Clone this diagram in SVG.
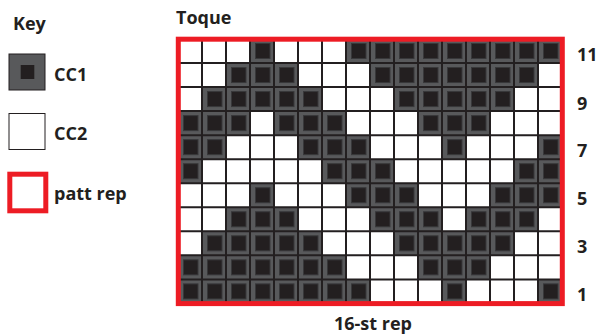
<svg xmlns="http://www.w3.org/2000/svg" xmlns:xlink="http://www.w3.org/1999/xlink" width="600" height="335" viewBox="0 0 600 335">
<style>
.t{font-family:"Open Sans","Noto Sans","Liberation Sans",sans-serif;font-weight:700;font-size:18px;fill:#231f20}
.grid{fill:none;stroke:#231f20;stroke-width:2}
.rep{fill:none;stroke:#ed1c24;stroke-width:5}
</style>
<defs>
<g id="cc1">
<rect x="0" y="0" width="24" height="24.1" fill="#58595b"/>
<rect x="5.5" y="4.5" width="14.5" height="15" fill="#231f20" stroke="#38383a" stroke-width="1"/>
</g>
</defs>
<rect width="600" height="335" fill="#ffffff"/>
<g id="key">
<text class="t" x="13" y="30">Key</text>
<g id="key-cc1">
<rect x="9" y="54" width="36" height="36" fill="#58595b" stroke="#231f20" stroke-width="1"/>
<rect x="20.7" y="65" width="13.6" height="14" fill="#231f20"/>
<text class="t" x="54" y="81">CC1</text>
</g>
<g id="key-cc2">
<rect x="9" y="113.5" width="36" height="36" fill="#ffffff" stroke="#231f20" stroke-width="1"/>
<text class="t" x="54" y="139.5">CC2</text>
</g>
<g id="key-rep">
<rect class="rep" x="9.8" y="174.2" width="36" height="36.6"/>
<text class="t" x="54" y="199.5">patt rep</text>
</g>
</g>
<g id="chart">
<text class="t" x="176" y="24">Toque</text>
<g id="cells">
<use xlink:href="#cc1" x="250" y="39"/><use xlink:href="#cc1" x="346" y="39"/><use xlink:href="#cc1" x="370" y="39"/><use xlink:href="#cc1" x="394" y="39"/><use xlink:href="#cc1" x="418" y="39"/><use xlink:href="#cc1" x="442" y="39"/><use xlink:href="#cc1" x="466" y="39"/><use xlink:href="#cc1" x="490" y="39"/><use xlink:href="#cc1" x="514" y="39"/><use xlink:href="#cc1" x="538" y="39"/>
<use xlink:href="#cc1" x="226" y="63.04"/><use xlink:href="#cc1" x="250" y="63.04"/><use xlink:href="#cc1" x="274" y="63.04"/><use xlink:href="#cc1" x="370" y="63.04"/><use xlink:href="#cc1" x="394" y="63.04"/><use xlink:href="#cc1" x="418" y="63.04"/><use xlink:href="#cc1" x="442" y="63.04"/><use xlink:href="#cc1" x="466" y="63.04"/><use xlink:href="#cc1" x="490" y="63.04"/><use xlink:href="#cc1" x="514" y="63.04"/>
<use xlink:href="#cc1" x="202" y="87.08"/><use xlink:href="#cc1" x="226" y="87.08"/><use xlink:href="#cc1" x="250" y="87.08"/><use xlink:href="#cc1" x="274" y="87.08"/><use xlink:href="#cc1" x="298" y="87.08"/><use xlink:href="#cc1" x="394" y="87.08"/><use xlink:href="#cc1" x="418" y="87.08"/><use xlink:href="#cc1" x="442" y="87.08"/><use xlink:href="#cc1" x="466" y="87.08"/><use xlink:href="#cc1" x="490" y="87.08"/>
<use xlink:href="#cc1" x="178" y="111.12"/><use xlink:href="#cc1" x="202" y="111.12"/><use xlink:href="#cc1" x="226" y="111.12"/><use xlink:href="#cc1" x="274" y="111.12"/><use xlink:href="#cc1" x="298" y="111.12"/><use xlink:href="#cc1" x="322" y="111.12"/><use xlink:href="#cc1" x="418" y="111.12"/><use xlink:href="#cc1" x="442" y="111.12"/><use xlink:href="#cc1" x="466" y="111.12"/>
<use xlink:href="#cc1" x="178" y="135.16"/><use xlink:href="#cc1" x="202" y="135.16"/><use xlink:href="#cc1" x="298" y="135.16"/><use xlink:href="#cc1" x="322" y="135.16"/><use xlink:href="#cc1" x="346" y="135.16"/><use xlink:href="#cc1" x="442" y="135.16"/><use xlink:href="#cc1" x="538" y="135.16"/>
<use xlink:href="#cc1" x="178" y="159.2"/><use xlink:href="#cc1" x="322" y="159.2"/><use xlink:href="#cc1" x="346" y="159.2"/><use xlink:href="#cc1" x="370" y="159.2"/><use xlink:href="#cc1" x="514" y="159.2"/><use xlink:href="#cc1" x="538" y="159.2"/>
<use xlink:href="#cc1" x="250" y="183.24"/><use xlink:href="#cc1" x="346" y="183.24"/><use xlink:href="#cc1" x="370" y="183.24"/><use xlink:href="#cc1" x="394" y="183.24"/><use xlink:href="#cc1" x="490" y="183.24"/><use xlink:href="#cc1" x="514" y="183.24"/><use xlink:href="#cc1" x="538" y="183.24"/>
<use xlink:href="#cc1" x="226" y="207.28"/><use xlink:href="#cc1" x="250" y="207.28"/><use xlink:href="#cc1" x="274" y="207.28"/><use xlink:href="#cc1" x="370" y="207.28"/><use xlink:href="#cc1" x="394" y="207.28"/><use xlink:href="#cc1" x="418" y="207.28"/><use xlink:href="#cc1" x="466" y="207.28"/><use xlink:href="#cc1" x="490" y="207.28"/><use xlink:href="#cc1" x="514" y="207.28"/>
<use xlink:href="#cc1" x="202" y="231.32"/><use xlink:href="#cc1" x="226" y="231.32"/><use xlink:href="#cc1" x="250" y="231.32"/><use xlink:href="#cc1" x="274" y="231.32"/><use xlink:href="#cc1" x="298" y="231.32"/><use xlink:href="#cc1" x="394" y="231.32"/><use xlink:href="#cc1" x="418" y="231.32"/><use xlink:href="#cc1" x="442" y="231.32"/><use xlink:href="#cc1" x="466" y="231.32"/><use xlink:href="#cc1" x="490" y="231.32"/>
<use xlink:href="#cc1" x="178" y="255.36"/><use xlink:href="#cc1" x="202" y="255.36"/><use xlink:href="#cc1" x="226" y="255.36"/><use xlink:href="#cc1" x="250" y="255.36"/><use xlink:href="#cc1" x="274" y="255.36"/><use xlink:href="#cc1" x="298" y="255.36"/><use xlink:href="#cc1" x="322" y="255.36"/><use xlink:href="#cc1" x="418" y="255.36"/><use xlink:href="#cc1" x="442" y="255.36"/><use xlink:href="#cc1" x="466" y="255.36"/>
<use xlink:href="#cc1" x="178" y="279.4"/><use xlink:href="#cc1" x="202" y="279.4"/><use xlink:href="#cc1" x="226" y="279.4"/><use xlink:href="#cc1" x="250" y="279.4"/><use xlink:href="#cc1" x="274" y="279.4"/><use xlink:href="#cc1" x="298" y="279.4"/><use xlink:href="#cc1" x="322" y="279.4"/><use xlink:href="#cc1" x="346" y="279.4"/><use xlink:href="#cc1" x="442" y="279.4"/><use xlink:href="#cc1" x="538" y="279.4"/>
</g>
<path class="grid" d="M202 39V303.44M226 39V303.44M250 39V303.44M274 39V303.44M298 39V303.44M322 39V303.44M346 39V303.44M370 39V303.44M394 39V303.44M418 39V303.44M442 39V303.44M466 39V303.44M490 39V303.44M514 39V303.44M538 39V303.44M178 63.04H562M178 87.08H562M178 111.12H562M178 135.16H562M178 159.2H562M178 183.24H562M178 207.28H562M178 231.32H562M178 255.36H562M178 279.4H562"/>
<rect class="rep" x="178.3" y="39.2" width="384" height="264.4"/>
<g id="row-labels">
<text class="t" x="577" y="60.7">11</text>
<text class="t" x="577" y="110">9</text>
<text class="t" x="577" y="157.3">7</text>
<text class="t" x="577" y="205">5</text>
<text class="t" x="577" y="253.3">3</text>
<text class="t" x="577" y="301">1</text>
</g>
<text class="t" x="373" y="330" text-anchor="middle">16-st rep</text>
</g>
<g id="connectors"/>
</svg>
